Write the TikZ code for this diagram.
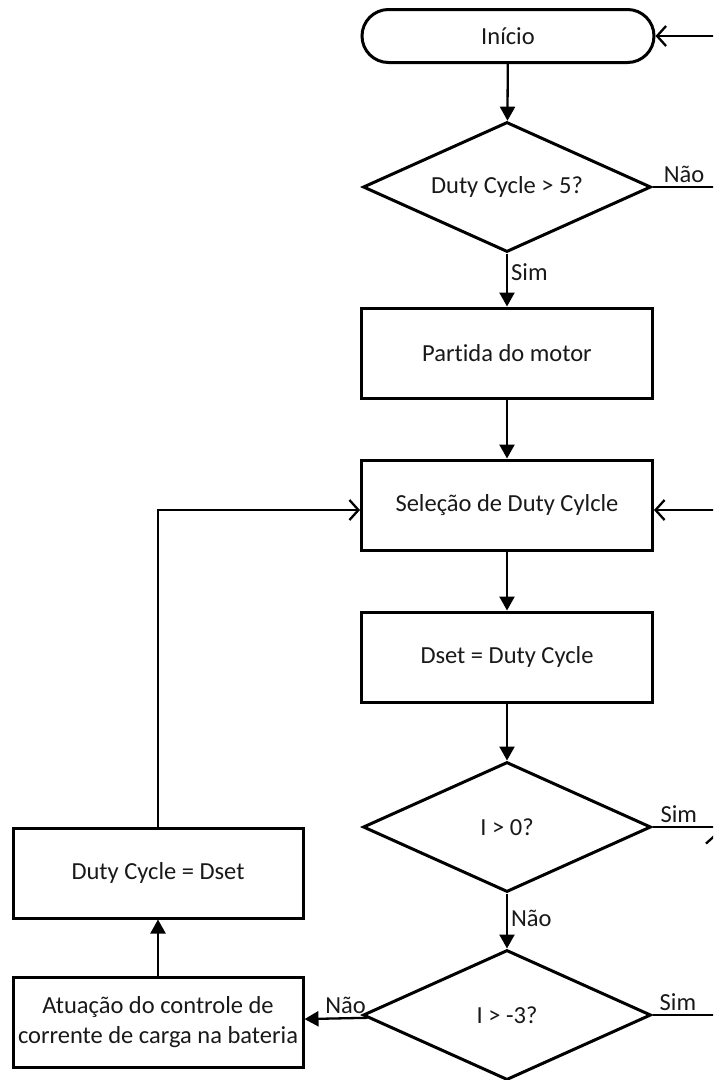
\documentclass[tikz,border=0pt]{standalone}
\usepackage{fontspec}
\setmainfont{Carlito}[Ligatures=NoCommon]
\usetikzlibrary{shapes.geometric,shapes.misc,arrows.meta}

\begin{document}
\begin{tikzpicture}[x=1pt,y=1pt]
\tikzstyle{every node}+=[font=\fontsize{24.5}{30}\selectfont,text=black!90]
\tikzstyle{proc}=[draw,line width=3pt,minimum width=291pt,minimum height=90pt,inner sep=0pt,align=center]
\tikzstyle{decis}=[draw,diamond,shape aspect=2.2,line width=3pt,minimum width=288pt,minimum height=130pt,inner sep=0pt]
\tikzstyle{term}=[draw,rounded rectangle,line width=3pt,minimum width=292pt,minimum height=53pt,inner sep=0pt]
\tikzstyle{flow}=[line width=2.3pt,-{Triangle[length=14pt,width=15pt]}]
\tikzstyle{back}=[line width=2.3pt,-{Straight Barb[length=9pt,width=20pt,line width=2.3pt]}]
\tikzstyle{lbl}=[inner sep=3pt]
\useasboundingbox (0,0) rectangle (713,-1080);
\clip (0,0) rectangle (713,-1080);
\fill [white] (0,0) rectangle (713,-1080);
\node [term] (inicio) at (508,-36) {Início};
\node [decis] (dc5) at (507,-187) {Duty Cycle > 5?};
\node [proc] (partida) at (507,-353) {Partida do motor};
\node [proc] (selecao) at (507,-505) {Seleção de Duty Cylcle};
\node [proc] (dset) at (507,-657) {Dset = Duty Cycle};
\node [decis] (ipos) at (507,-827) {I > 0?};
\node [decis] (ineg) at (507,-1015) {I > -3?};
\node [proc,minimum width=290pt] (dcset) at (158,-873) {Duty Cycle = Dset};
\node [proc,minimum width=290pt] (atua) at (158,-1022) {Atuação do controle de\\corrente de carga na bateria};
\coordinate (topr) at (715.5,-187);
\coordinate (topr2) at (715.5,-36);
\coordinate (midr) at (740,-827);
\coordinate (midr2) at (740,-510);
\coordinate (lowr) at (716,-1015);
\coordinate (lowr2) at (716,-833);
\coordinate (left1) at (158,-510);
\draw [flow] (inicio) -- (dc5);
\draw [flow] (dc5) -- node [lbl,right,pos=0.35,name=sim1] {Sim} (partida);
\draw [flow] (partida) -- (selecao);
\draw [flow] (selecao) -- (dset);
\draw [flow] (dset) -- (ipos);
\draw [flow] (ipos) -- node [lbl,right,pos=0.45,name=nao2] {Não} (ineg);
\draw [flow] (ineg) -- node [lbl,above,pos=0.35,name=nao3] {Não} (atua);
\draw [flow] (atua) -- (dcset);
\draw [back] (dcset) -- (left1) -- (left1 -| selecao.west);
\draw [back] (dc5.east) -- node [lbl,above,pos=0.5,name=nao1] {Não} (topr) -- (topr2) -- (inicio.east);
\draw [back] (ipos.east) -- node [lbl,above,pos=0.3,name=sim2] {Sim} (midr) -- (midr2) -- (midr2 -| selecao.east);
\draw [back] (ineg.east) -- node [lbl,above,pos=0.4,name=sim3] {Sim} (lowr) -- (lowr2);
\end{tikzpicture}
\end{document}
